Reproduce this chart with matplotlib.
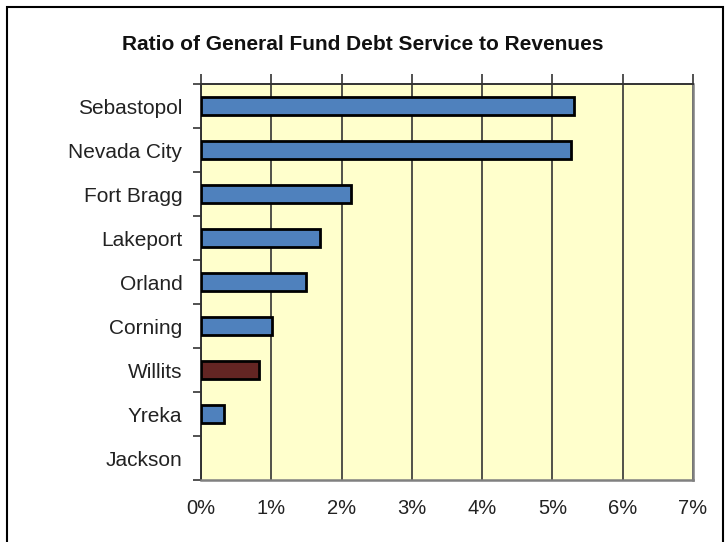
import numpy as np
import matplotlib.pyplot as plt
from matplotlib.patches import Rectangle
from matplotlib.ticker import FuncFormatter

cities = ["Sebastopol", "Nevada City", "Fort Bragg", "Lakeport", "Orland",
          "Corning", "Willits", "Yreka", "Jackson"]
ratios = [5.31, 5.26, 2.13, 1.69, 1.49, 1.01, 0.82, 0.33, 0.0]
highlight = "Willits"

plt.rcParams["font.family"] = ["Liberation Sans", "DejaVu Sans"]

fig = plt.figure(figsize=(7.26, 5.42), dpi=100)
ax = fig.add_axes([201 / 726, 1 - 480 / 542, 492 / 726, 396 / 542])
ax.set_facecolor("#FFFFCC")

# outer frame of the chart
fig.patches.append(Rectangle((7 / 726, -0.05), 716 / 726, 1 - 7 / 542 + 0.05,
                             transform=fig.transFigure, fill=False,
                             edgecolor="black", linewidth=1.5))

y = np.arange(len(cities))
colors = ["#632523" if c == highlight else "#4F81BD" for c in cities]
edges = [2 if v > 0 else 0 for v in ratios]
ax.barh(y, ratios, height=0.41, color=colors, edgecolor="black",
        linewidth=edges, zorder=3)

ax.set_xlim(0, 7)
ax.set_ylim(len(cities) - 0.5, -0.5)
ax.xaxis.grid(True, color="#333333", linewidth=1.2, zorder=1)
ax.set_xticks(range(8))
ax.xaxis.set_major_formatter(FuncFormatter(lambda v, p: f"{v:.0f}%"))
ax.tick_params(axis="x", which="major", top=True, bottom=False,
               labeltop=False, labelbottom=True, direction="out",
               length=7, width=1.2, color="#333333", labelsize=14.5,
               pad=7, labelcolor="#222222")

# ticks between categories, labels at centres
ax.set_yticks(np.arange(-0.5, len(cities), 1.0))
ax.set_yticklabels([])
ax.set_yticks(y, minor=True)
ax.set_yticklabels(cities, minor=True)
ax.tick_params(axis="y", which="major", length=6, width=1.2, color="#333333")
ax.tick_params(axis="y", which="minor", length=0, pad=13.5, labelsize=15,
               labelcolor="#222222")

for side in ["left", "top"]:
    ax.spines[side].set_color("#333333")
    ax.spines[side].set_linewidth(1.4)
for side in ["right", "bottom"]:
    ax.spines[side].set_color("#808080")
    ax.spines[side].set_linewidth(1.8)

fig.text(363 / 726, 1 - 45 / 542, "Ratio of General Fund Debt Service to Revenues",
         ha="center", va="center", fontsize=15, fontweight="bold",
         color="#111111")

fig.savefig("out.png", dpi=100)
